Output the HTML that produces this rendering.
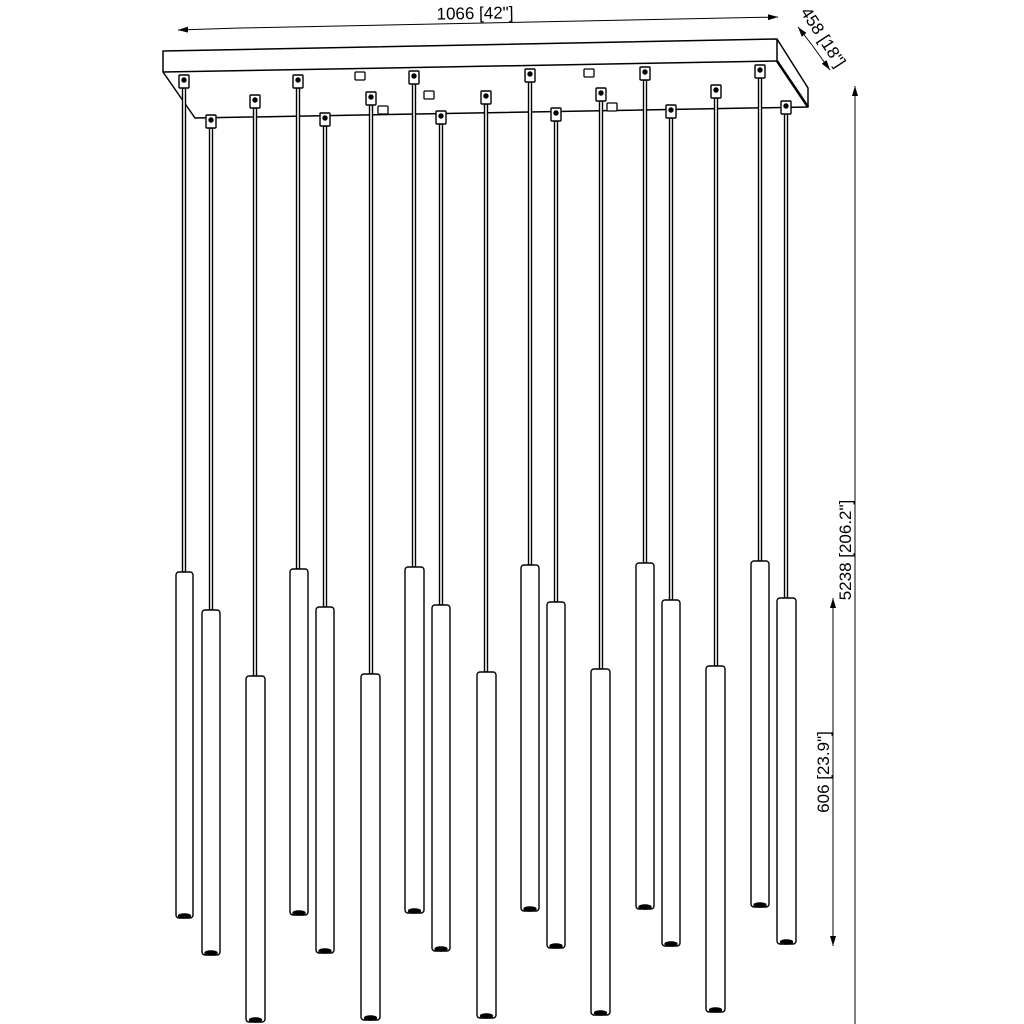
<!DOCTYPE html>
<html><head><style>body{margin:0;background:#fff}svg{display:block}</style></head><body>
<svg width="1024" height="1024" viewBox="0 0 1024 1024" xmlns="http://www.w3.org/2000/svg" font-family="Liberation Sans, sans-serif">
<defs><marker id="a" markerWidth="10" markerHeight="6" refX="10" refY="3" orient="auto" markerUnits="userSpaceOnUse"><path d="M0,0 L10,3 L0,6 z" fill="#000"/></marker></defs>
<g stroke="#000" fill="none" stroke-width="1">
<line x1="240" y1="28" x2="178" y2="30" marker-end="url(#a)"/>
<line x1="240" y1="28" x2="778" y2="17" marker-end="url(#a)"/>
<line x1="812" y1="45" x2="798" y2="27" marker-end="url(#a)"/>
<line x1="812" y1="45" x2="830" y2="70" marker-end="url(#a)"/>
<line x1="855" y1="500" x2="855" y2="86" marker-end="url(#a)"/>
<line x1="855" y1="500" x2="855" y2="1024"/>
<line x1="833" y1="770" x2="833" y2="598" marker-end="url(#a)"/>
<line x1="833" y1="770" x2="833" y2="946" marker-end="url(#a)"/>
</g>
<g stroke="#000" fill="#fff" stroke-width="1.5" stroke-linejoin="round">
<polygon points="163,51 777,39 808,88 808,107 195,118 163,72"/>
<line x1="163" y1="72" x2="777" y2="61"/>
<line x1="777" y1="39" x2="777" y2="61"/>
<line x1="777" y1="61" x2="808" y2="107" stroke-width="2.5"/>
</g>
<g font-size="17" fill="#000">
<text x="475" y="19" text-anchor="middle" transform="rotate(-1 475 14)">1066 [42"]</text>
<text x="800" y="12" transform="rotate(57 800 12)">458 [18"]</text>
<text x="851" y="550" text-anchor="middle" transform="rotate(-90 851 550)">5238 [206.2"]</text>
<text x="829" y="772" text-anchor="middle" transform="rotate(-90 829 772)">606 [23.9"]</text>
</g>
<g stroke="#000" fill="#fff" stroke-width="1.3">
<rect x="355" y="72" width="10" height="8" rx="1"/>
<rect x="424" y="91" width="10" height="8" rx="1"/>
<rect x="584" y="69" width="10" height="8" rx="1"/>
<rect x="607" y="103" width="10" height="8" rx="1"/>
<rect x="378" y="106" width="10" height="8" rx="1"/>
</g>
<g stroke="#000" fill="#fff" stroke-width="1.4">
<rect x="182.5" y="88" width="3" height="484"/><rect x="179" y="75" width="10" height="13" rx="1"/><circle cx="184" cy="80" r="2" fill="#000"/><rect x="176" y="572" width="17" height="346" rx="3"/><ellipse cx="184.5" cy="916" rx="6" ry="2" fill="#000"/>
<rect x="209.5" y="128" width="3" height="482"/><rect x="206" y="115" width="10" height="13" rx="1"/><circle cx="211" cy="120" r="2" fill="#000"/><rect x="202" y="610" width="18" height="345" rx="3"/><ellipse cx="211" cy="953" rx="6" ry="2" fill="#000"/>
<rect x="253.5" y="108" width="3" height="568"/><rect x="250" y="95" width="10" height="13" rx="1"/><circle cx="255" cy="100" r="2" fill="#000"/><rect x="246" y="676" width="19" height="346" rx="3"/><ellipse cx="255.5" cy="1020" rx="6" ry="2" fill="#000"/>
<rect x="296.5" y="88" width="3" height="481"/><rect x="293" y="75" width="10" height="13" rx="1"/><circle cx="298" cy="80" r="2" fill="#000"/><rect x="290" y="569" width="18" height="346" rx="3"/><ellipse cx="299" cy="913" rx="6" ry="2" fill="#000"/>
<rect x="323.5" y="126" width="3" height="481"/><rect x="320" y="113" width="10" height="13" rx="1"/><circle cx="325" cy="118" r="2" fill="#000"/><rect x="316" y="607" width="18" height="346" rx="3"/><ellipse cx="325" cy="951" rx="6" ry="2" fill="#000"/>
<rect x="369.5" y="105" width="3" height="569"/><rect x="366" y="92" width="10" height="13" rx="1"/><circle cx="371" cy="97" r="2" fill="#000"/><rect x="361" y="674" width="19" height="346" rx="3"/><ellipse cx="370.5" cy="1018" rx="6" ry="2" fill="#000"/>
<rect x="412.5" y="84" width="3" height="483"/><rect x="409" y="71" width="10" height="13" rx="1"/><circle cx="414" cy="76" r="2" fill="#000"/><rect x="405" y="567" width="19" height="346" rx="3"/><ellipse cx="414.5" cy="911" rx="6" ry="2" fill="#000"/>
<rect x="439.5" y="124" width="3" height="481"/><rect x="436" y="111" width="10" height="13" rx="1"/><circle cx="441" cy="116" r="2" fill="#000"/><rect x="432" y="605" width="18" height="346" rx="3"/><ellipse cx="441" cy="949" rx="6" ry="2" fill="#000"/>
<rect x="484.5" y="104" width="3" height="568"/><rect x="481" y="91" width="10" height="13" rx="1"/><circle cx="486" cy="96" r="2" fill="#000"/><rect x="477" y="672" width="19" height="346" rx="3"/><ellipse cx="486.5" cy="1016" rx="6" ry="2" fill="#000"/>
<rect x="528.5" y="82" width="3" height="483"/><rect x="525" y="69" width="10" height="13" rx="1"/><circle cx="530" cy="74" r="2" fill="#000"/><rect x="521" y="565" width="18" height="346" rx="3"/><ellipse cx="530" cy="909" rx="6" ry="2" fill="#000"/>
<rect x="554.5" y="121" width="3" height="481"/><rect x="551" y="108" width="10" height="13" rx="1"/><circle cx="556" cy="113" r="2" fill="#000"/><rect x="547" y="602" width="18" height="346" rx="3"/><ellipse cx="556" cy="946" rx="6" ry="2" fill="#000"/>
<rect x="599.5" y="101" width="3" height="568"/><rect x="596" y="88" width="10" height="13" rx="1"/><circle cx="601" cy="93" r="2" fill="#000"/><rect x="591" y="669" width="19" height="346" rx="3"/><ellipse cx="600.5" cy="1013" rx="6" ry="2" fill="#000"/>
<rect x="643.5" y="80" width="3" height="483"/><rect x="640" y="67" width="10" height="13" rx="1"/><circle cx="645" cy="72" r="2" fill="#000"/><rect x="636" y="563" width="18" height="346" rx="3"/><ellipse cx="645" cy="907" rx="6" ry="2" fill="#000"/>
<rect x="669.5" y="118" width="3" height="482"/><rect x="666" y="105" width="10" height="13" rx="1"/><circle cx="671" cy="110" r="2" fill="#000"/><rect x="662" y="600" width="18" height="346" rx="3"/><ellipse cx="671" cy="944" rx="6" ry="2" fill="#000"/>
<rect x="714.5" y="98" width="3" height="568"/><rect x="711" y="85" width="10" height="13" rx="1"/><circle cx="716" cy="90" r="2" fill="#000"/><rect x="706" y="666" width="19" height="346" rx="3"/><ellipse cx="715.5" cy="1010" rx="6" ry="2" fill="#000"/>
<rect x="758.5" y="78" width="3" height="483"/><rect x="755" y="65" width="10" height="13" rx="1"/><circle cx="760" cy="70" r="2" fill="#000"/><rect x="751" y="561" width="18" height="346" rx="3"/><ellipse cx="760" cy="905" rx="6" ry="2" fill="#000"/>
<rect x="784.5" y="114" width="3" height="484"/><rect x="781" y="101" width="10" height="13" rx="1"/><circle cx="786" cy="106" r="2" fill="#000"/><rect x="777" y="598" width="19" height="346" rx="3"/><ellipse cx="786.5" cy="942" rx="6" ry="2" fill="#000"/>
</g>
</svg>
</body></html>
